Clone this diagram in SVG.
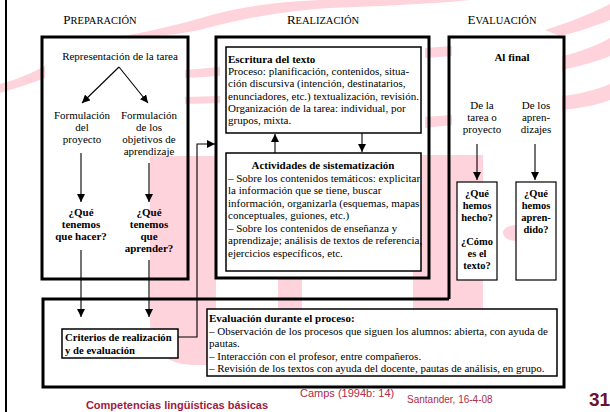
<svg xmlns="http://www.w3.org/2000/svg" width="610" height="412" viewBox="0 0 610 412">
<style>
.t{font-family:"Liberation Serif","Times New Roman",serif;font-size:11px;fill:#000}
.b{font-weight:bold}
.c{text-anchor:middle}
.hb{font-size:13px}
.hs{font-size:10.5px}
.s105{font-size:10.5px}
.s107{font-size:10.7px}
.box{fill:none;stroke:#000;stroke-width:3}
.ibox{fill:#fff;stroke:#000;stroke-width:1.5}
.sbox{fill:#fff;stroke:#000;stroke-width:1.2}
.ln{fill:none;stroke:#000;stroke-width:1.1}
.pk{fill:#ffd3dc}
.ft{font-family:"Liberation Sans",Arial,sans-serif}
</style>
<defs>
<marker id="ah" viewBox="0 0 10 10" refX="10" refY="5" markerWidth="8" markerHeight="8" markerUnits="userSpaceOnUse" orient="auto">
<path d="M0,0 L10,5 L0,10 Z" fill="#000"/>
</marker>
</defs>
<rect width="610" height="412" fill="#fff"/>
<g id="background">
<path class="pk" d="M0,84 C15,80 30,74 45,66 L45,78 C30,84 15,88 0,93 Z"/>
<path class="pk" d="M110,38 C150,32 180,24 215,14 C250,5 280,2 320,0 L470,0 C430,4 380,6 330,8 C270,12 230,22 200,30 C170,36 140,38 110,38 Z"/>
<path class="pk" d="M185,70 L220,67 L220,76 L185,78 Z"/>
<path class="pk" d="M185,97 L220,96 L220,103 L185,104 Z"/>
<path class="pk" d="M425,48 L452,46 L452,56 L425,58 Z"/>
<path class="pk" d="M425,117 L452,115 L452,125 L425,128 Z"/>
<path class="pk" d="M545,30 C570,22 590,14 610,4 L610,20 C590,28 570,34 560,36 Z"/>
<path class="pk" d="M562,56 C580,52 595,46 610,38 L610,56 C595,62 580,66 562,70 Z"/>
<path class="pk" d="M562,96 C580,94 595,90 610,84 L610,100 C595,106 580,108 562,110 Z"/>
<path class="pk" d="M150,156 H216 V365 H195 Q150,365 150,320 Z"/>
<rect class="pk" x="278" y="279" width="24" height="30"/>
<rect class="pk" x="413" y="155" width="70" height="154"/>
<ellipse class="pk" cx="516" cy="233" rx="13" ry="8"/>
</g>
<line x1="6" y1="0" x2="6" y2="412" stroke="#000" stroke-width="2"/>
<g id="titulos">
<text class="t c" x="100" y="24"><tspan class="hb">P</tspan><tspan class="hs">REPARACIÓN</tspan></text>
<text class="t c" x="323" y="24"><tspan class="hb">R</tspan><tspan class="hs">EALIZACIÓN</tspan></text>
<text class="t c" x="502" y="24"><tspan class="hb">E</tspan><tspan class="hs">VALUACIÓN</tspan></text>
</g>
<g id="preparacion">
<rect class="box" x="42" y="37" width="146" height="242"/>
<text class="t c" x="120" y="60">Representación de la tarea</text>
</g>
<g id="formulacion-proyecto">
<text class="t c" x="82" y="119">Formulación<tspan x="82" dy="12">del</tspan><tspan x="82" dy="12">proyecto</tspan></text>
</g>
<g id="formulacion-objetivos">
<text class="t c" x="149" y="119">Formulación<tspan x="149" dy="12">de los</tspan><tspan x="149" dy="12">objetivos de</tspan><tspan x="149" dy="12">aprendizaje</tspan></text>
</g>
<g id="que-hacer">
<text class="t b c" x="81" y="216">¿Qué<tspan x="81" dy="12">tenemos</tspan><tspan x="81" dy="12">que hacer?</tspan></text>
</g>
<g id="que-aprender">
<text class="t b c" x="149" y="216">¿Qué<tspan x="149" dy="12">tenemos</tspan><tspan x="149" dy="12">que</tspan><tspan x="149" dy="12">aprender?</tspan></text>
</g>
<g id="realizacion">
<rect class="box" x="216" y="37" width="213" height="241"/>
</g>
<g id="escritura">
<rect class="ibox" x="226" y="47" width="195" height="86"/>
<text class="t" x="228" y="63"><tspan class="b">Escritura del texto</tspan><tspan x="228" dy="12.2">Proceso: planificación, contenidos, situa-</tspan><tspan x="228" dy="12.2">ción discursiva (intención, destinatarios,</tspan><tspan x="228" dy="12.2">enunciadores, etc.) textualización, revisión.</tspan><tspan x="228" dy="12.2">Organización de la tarea: individual, por</tspan><tspan x="228" dy="12.2">grupos, mixta.</tspan></text>
</g>
<g id="actividades">
<rect class="ibox" x="226" y="153" width="195" height="118"/>
<text class="t b c" x="323" y="169">Actividades de sistematización</text>
<text class="t" x="228" y="181.5">– Sobre los contenidos temáticos: explicitar<tspan x="228" dy="12.5">la información que se tiene, buscar</tspan><tspan x="228" dy="12.5">información, organizarla (esquemas, mapas</tspan><tspan x="228" dy="12.5">conceptuales, guiones, etc.)</tspan><tspan x="228" dy="12.5">– Sobre los contenidos de enseñanza y</tspan><tspan x="228" dy="12.5">aprendizaje; análisis de textos de referencia,</tspan><tspan x="228" dy="12.5">ejercicios específicos, etc.</tspan></text>
</g>
<g id="evaluacion">
<path class="box" d="M449,299 V37 H564 V299"/>
<text class="t b c" x="512" y="61">Al final</text>
</g>
<g id="de-la-tarea">
<text class="t c" x="482" y="109">De la<tspan x="482" dy="12">tarea o</tspan><tspan x="482" dy="12">proyecto</tspan></text>
</g>
<g id="de-los-aprendizajes">
<text class="t c" x="536" y="109">De los<tspan x="536" dy="12">apren-</tspan><tspan x="536" dy="12">dizajes</tspan></text>
</g>
<g id="que-hemos-hecho">
<rect class="sbox" x="457" y="182" width="40" height="98"/>
<text class="t b c s105" x="477" y="196.5">¿Qué<tspan x="477" dy="12">hemos</tspan><tspan x="477" dy="12">hecho?</tspan><tspan x="477" dy="24">¿Cómo</tspan><tspan x="477" dy="12">es el</tspan><tspan x="477" dy="12">texto?</tspan></text>
</g>
<g id="que-hemos-aprendido">
<rect class="sbox" x="516" y="182" width="40" height="98"/>
<text class="t b c s105" x="536" y="196.5">¿Qué<tspan x="536" dy="12">hemos</tspan><tspan x="536" dy="12">apren-</tspan><tspan x="536" dy="12">dido?</tspan></text>
</g>
<g id="evaluacion-proceso">
<path class="box" d="M449,299 H43 V387 H564 V299"/>
<rect class="ibox" x="207" y="309" width="350" height="67" stroke-width="1.3"/>
<text class="t" x="209" y="322"><tspan class="b">Evaluación durante el proceso:</tspan><tspan x="209" dy="12.5">– Observación de los procesos que siguen los alumnos: abierta, con ayuda de</tspan><tspan x="209" dy="12.5">pautas.</tspan><tspan x="209" dy="12.5">– Interacción con el profesor, entre compañeros.</tspan><tspan x="209" dy="12.5">– Revisión de los textos con ayuda del docente, pautas de análisis, en grupo.</tspan></text>
</g>
<g id="criterios">
<rect class="ibox" x="62" y="329" width="116" height="29"/>
<text class="t b s107" x="65" y="341">Criterios de realización<tspan x="65" dy="13">y de evaluación</tspan></text>
</g>
<g id="connectors">
<line class="ln" x1="119" y1="67" x2="82" y2="103" marker-end="url(#ah)"/>
<line class="ln" x1="119" y1="67" x2="148" y2="103" marker-end="url(#ah)"/>
<line class="ln" x1="81" y1="153" x2="81" y2="202" marker-end="url(#ah)"/>
<line class="ln" x1="149" y1="163" x2="149" y2="202" marker-end="url(#ah)"/>
<line class="ln" x1="81" y1="250" x2="81" y2="317" marker-end="url(#ah)"/>
<line class="ln" x1="149" y1="260" x2="149" y2="317" marker-end="url(#ah)"/>
<path class="ln" d="M178,337 H197 V144 H215" marker-end="url(#ah)"/>
<line class="ln" x1="275" y1="153" x2="275" y2="134" marker-end="url(#ah)"/>
<line class="ln" x1="362" y1="133" x2="362" y2="152" marker-end="url(#ah)"/>
<line class="ln" x1="477" y1="144" x2="477" y2="180" marker-end="url(#ah)"/>
<line class="ln" x1="535" y1="144" x2="535" y2="180" marker-end="url(#ah)"/>
</g>
<g id="pie">
<text class="ft" x="177" y="409" font-size="11" font-weight="bold" fill="#9e1b3f" text-anchor="middle">Competencias lingüísticas básicas</text>
<text class="ft" x="300" y="397" font-size="11" fill="#b02a4a">Camps (1994b: 14)</text>
<text class="ft" x="407" y="403" font-size="10" fill="#b02a4a">Santander, 16-4-08</text>
<text x="589" y="406" font-family="'Liberation Sans Narrow','Liberation Sans',Arial,sans-serif" font-size="19" font-weight="bold" fill="#6b1230">31</text>
</g>
</svg>
